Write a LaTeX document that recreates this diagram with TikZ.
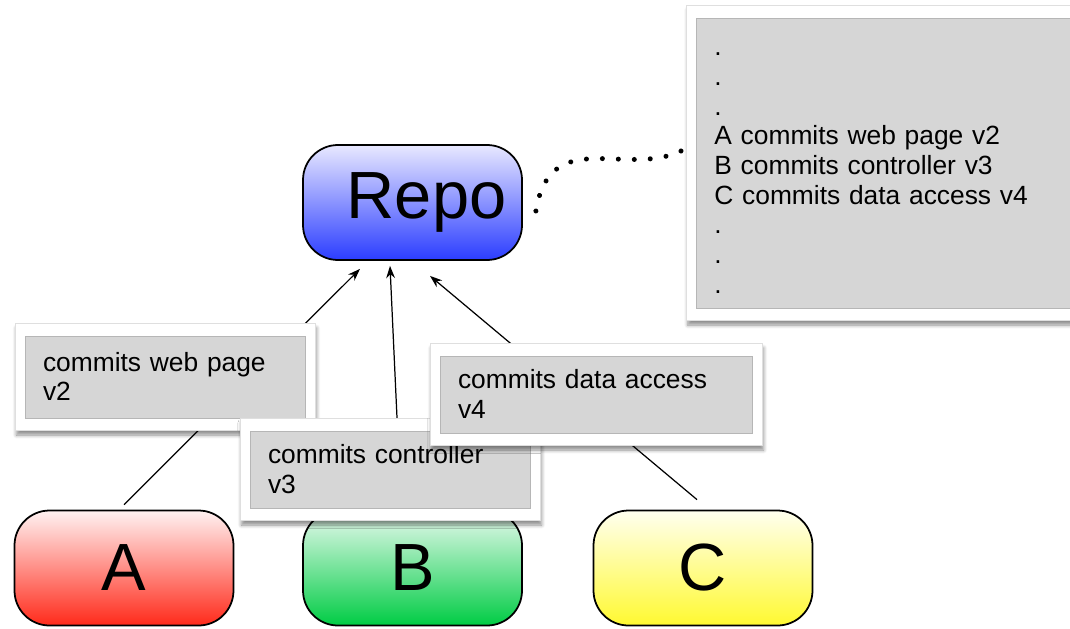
\documentclass[tikz,border=0pt]{standalone}
\usepackage{fontspec}
\setmainfont{Liberation Sans}
\usetikzlibrary{shadows.blur,arrows.meta,decorations.markings}

\definecolor{notegray}{HTML}{D6D6D6}
\definecolor{repotop}{HTML}{E8E8FF}
\definecolor{repobot}{HTML}{2B3DFF}
\definecolor{atop}{HTML}{FFF2F2}
\definecolor{abot}{HTML}{FF2A1A}
\definecolor{btop}{HTML}{EAFAF0}
\definecolor{bbot}{HTML}{00CC44}
\definecolor{ctop}{HTML}{FFFFF0}
\definecolor{cbot}{HTML}{FFF930}

\begin{document}
\begin{tikzpicture}[thick,
		main node/.style={rectangle,rounded corners=0.7cm,draw,line width=1pt,
			minimum width=4.38cm,minimum height=2.3cm,font=\fontsize{38}{40}\selectfont},
		note/.style={rectangle,fill=white,draw=gray!25,line width=0.4pt,
			blur shadow={shadow xshift=0.03cm,shadow yshift=-0.1cm,shadow blur steps=6,shadow opacity=45},
			text width=#1,inner xsep=0.56cm,align=left,font=\fontsize{15}{16.9}\selectfont,
			path picture={\draw[notegray!85!black,fill=notegray,line width=0.4pt]
				([shift={(0.2,-0.26)}]path picture bounding box.north west) rectangle
				([shift={(-0.2,0.24)}]path picture bounding box.south east);}},
		commit/.style={line width=0.7pt,-{Stealth[length=7pt,width=5pt]}},
		dots/.style={decoration={markings,mark=between positions 0 and 1 step 1/11 with {\fill (0,0) circle (0.05cm);}},decorate}]
		
		\clip (0,0) rectangle (21.4,-12.56);
		
		\node[main node,top color=repotop,bottom color=repobot] (repo) at (8.25,-4.05) {\hspace*{0.56cm}Repo};
		\node[main node,top color=atop,bottom color=abot] (A) at (2.48,-11.36) {A};
		\node[main node,top color=btop,bottom color=bbot] (B) at (8.25,-11.36) {B};
		\node[main node,top color=ctop,bottom color=cbot] (C) at (14.06,-11.36) {C};
		
		% commits go up to the repo
		\draw[commit] ([yshift=0.1cm]A.north) -- ([xshift=-1.05cm,yshift=-0.16cm]repo.south);
		\draw[commit] ([xshift=-0.23cm,yshift=0.1cm]B.north) -- ([xshift=-0.45cm,yshift=-0.1cm]repo.south);
		\draw[commit] ([xshift=-0.12cm,yshift=0.2cm]C.north) -- ([xshift=0.35cm,yshift=-0.3cm]repo.south);
		
		\node[note=4.88cm,minimum height=2.14cm] (web) at (3.3,-7.53) {commits web page\\v2};
		\node[note=4.88cm,minimum height=2.04cm] (ctrl) at (7.8,-9.38) {commits controller\\v3};
		\node[note=5.52cm,minimum height=2.04cm] (data) at (11.92,-7.88) {commits data access\\v4};
		\node[note=7cm,minimum height=6.3cm,anchor=west] (log) at (13.72,-3.25)
			{\rule{0pt}{0.48cm}.\\.\\.\\A commits web page v2\\B commits controller v3\\C commits data access v4\\.\\.\\.};
		
		% history of the repo
		\path[dots] ([xshift=0.26cm,yshift=-0.17cm]repo.east) .. controls (11.0,-2.5) and (12.5,-3.55) .. ([xshift=-0.1cm,yshift=0.23cm]log.west);
		
	\end{tikzpicture}
\end{document}
